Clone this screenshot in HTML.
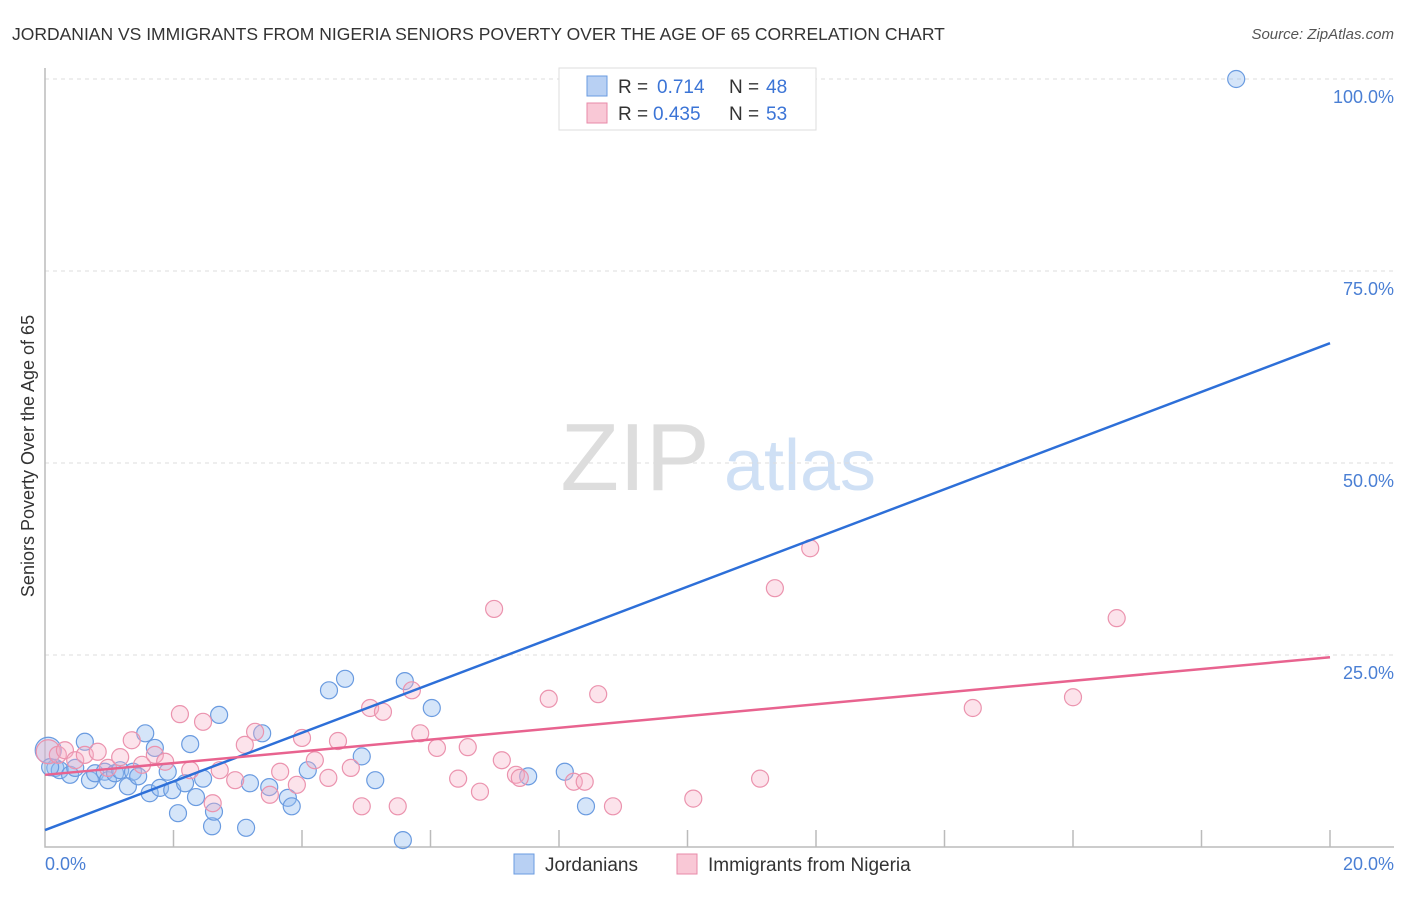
<!DOCTYPE html>
<html><head><meta charset="utf-8"><style>
body{margin:0;background:#fff;font-family:"Liberation Sans",sans-serif;}
svg text{font-family:"Liberation Sans",sans-serif;}
</style></head><body>
<svg id="chart" width="1406" height="892" viewBox="0 0 1406 892">
<text x="12" y="40" font-size="17.5" fill="#333">JORDANIAN VS IMMIGRANTS FROM NIGERIA SENIORS POVERTY OVER THE AGE OF 65 CORRELATION CHART</text>
<text x="1394" y="39" font-size="15" fill="#555" font-style="italic" text-anchor="end">Source: ZipAtlas.com</text>
<g>
<text x="635" y="490" font-size="96" fill="#ddd" text-anchor="middle" font-family="Liberation Serif">ZIP</text>
<text x="800" y="490" font-size="72" fill="#cfe0f5" text-anchor="middle">atlas</text>
</g>
<g id="grid"></g><g id="axes"></g><g id="points"></g><g id="lines"></g>
<text transform="translate(34,456) rotate(-90)" font-size="18" fill="#333" text-anchor="middle">Seniors Poverty Over the Age of 65</text>
<text x="45" y="870" font-size="18" fill="#4a7fd4">0.0%</text>
<text x="1394" y="870" font-size="18" fill="#4a7fd4" text-anchor="end">20.0%</text>
<g>
<rect x="559" y="68" width="257" height="62" fill="#fff" stroke="#ddd"/>
<rect x="587" y="76" width="20" height="20" fill="#b8d0f3" stroke="#6a9be0"/>
<text x="618" y="93" font-size="19" fill="#333">R =</text>
<text x="657" y="93" font-size="19" fill="#3b74d6">0.714</text>
<text x="729" y="93" font-size="19" fill="#333">N =</text>
<text x="766" y="93" font-size="19" fill="#3b74d6">48</text>
<rect x="587" y="103" width="20" height="20" fill="#f9c8d6" stroke="#e88aa8"/>
<text x="618" y="120" font-size="19" fill="#333">R =</text>
<text x="653" y="120" font-size="19" fill="#3b74d6">0.435</text>
<text x="729" y="120" font-size="19" fill="#333">N =</text>
<text x="766" y="120" font-size="19" fill="#3b74d6">53</text>
</g>
<g>
<rect x="514" y="854" width="20" height="20" fill="#b8d0f3" stroke="#6a9be0"/>
<text x="545" y="871" font-size="19" fill="#333">Jordanians</text>
<rect x="677" y="854" width="20" height="20" fill="#f9c8d6" stroke="#e88aa8"/>
<text x="708" y="871" font-size="19" fill="#333">Immigrants from Nigeria</text>
</g>
</svg>
<script>
const yTicks=[25,50,75,100];
const yTickLabels=["25.0%","50.0%","75.0%","100.0%"];
const xTicks=[2,4,6,8,10,12,14,16,18,20];
const blueX=[0.05,0.16,0.23,0.39,0.47,0.62,0.70,0.78,0.93,0.98,1.09,1.17,1.29,1.37,1.45,1.56,1.63,1.71,1.79,1.91,1.98,2.07,2.18,2.26,2.35,2.46,2.60,2.63,2.71,3.13,3.19,3.38,3.49,3.78,3.84,4.09,4.42,4.67,4.93,5.14,5.57,5.60,6.02,7.52,8.09,8.42,18.54,0.08];
const blueY=[12.6,10.3,10.0,9.4,10.3,13.7,8.7,9.6,9.8,8.7,9.6,10.0,7.9,9.8,9.2,14.8,7.0,12.9,7.7,9.8,7.4,4.4,8.3,13.4,6.5,8.9,2.7,4.6,17.2,2.5,8.3,14.8,7.8,6.4,5.3,10.0,20.4,21.9,11.8,8.7,0.9,21.6,18.1,9.2,9.8,5.3,100,10.4];
const pinkX=[0.05,0.2,0.31,0.47,0.62,0.82,0.98,1.17,1.35,1.51,1.71,1.87,2.10,2.26,2.46,2.61,2.72,2.96,3.11,3.27,3.50,3.66,3.92,4.0,4.2,4.41,4.56,4.76,4.93,5.06,5.26,5.49,5.71,5.84,6.10,6.43,6.58,6.77,6.99,7.11,7.33,7.39,7.84,8.23,8.40,8.61,8.84,10.09,11.13,11.36,11.91,14.44,16.0,16.68];
const pinkY=[12.4,12.0,12.6,11.3,12.0,12.4,10.3,11.7,13.9,10.7,12.0,11.1,17.3,10.0,16.3,5.7,10.0,8.7,13.3,15.0,6.8,9.8,8.1,14.2,11.3,9.0,13.8,10.3,5.3,18.1,17.6,5.3,20.4,14.8,12.9,8.9,13.0,7.2,31.0,11.3,9.4,9.0,19.3,8.5,8.5,19.9,5.3,6.3,8.9,33.7,38.9,18.1,19.5,29.8];
const blueLine=[[0,2.2],[20,65.6]];
const pinkLine=[[0,9.4],[20,24.7]];
const NS="http://www.w3.org/2000/svg";
const X=v=>45+v*64.25, Y=v=>847-v*7.68;
function mk(t,a,p){const e=document.createElementNS(NS,t);for(const k in a)e.setAttribute(k,a[k]);p.appendChild(e);return e;}
const grid=document.getElementById('grid'),axes=document.getElementById('axes'),pts=document.getElementById('points'),lines=document.getElementById('lines');
yTicks.forEach((v,i)=>{
 const l=mk('line',{x1:45,x2:1394,y1:Y(v),y2:Y(v),stroke:'#ddd','stroke-dasharray':'4,4'},grid);
 
 
 const t=mk('text',{x:1394,y:Y(v)+24,'font-size':18,fill:'#4a7fd4','text-anchor':'end'},grid);
 t.textContent=yTickLabels[i];
 
 
});
const ax=mk('path',{d:'M45 68V847H1394',fill:'none',stroke:'#bbb','stroke-width':1.5},axes);


xTicks.forEach(v=>{
 const l=mk('line',{x1:X(v),x2:X(v),y1:830,y2:847,stroke:'#bbb','stroke-width':1.5},axes);
 
 
});
blueX.forEach((x,i)=>{
 const c=mk('circle',{cx:X(x),cy:Y(blueY[i]),r:i==0?13:8.5,fill:'rgba(150,190,240,0.4)',stroke:'#6a9be0','stroke-width':1.2},pts);
 
 
});
pinkX.forEach((x,i)=>{
 const c=mk('circle',{cx:X(x),cy:Y(pinkY[i]),r:i==0?12:8.5,fill:'rgba(245,175,198,0.35)',stroke:'#eb93ae','stroke-width':1.2},pts);
 
 
});
const bl=mk('line',{x1:X(blueLine[0][0]),y1:Y(blueLine[0][1]),x2:X(blueLine[1][0]),y2:Y(blueLine[1][1]),stroke:'#2d6fd8','stroke-width':2.5},lines);


const pl=mk('line',{x1:X(pinkLine[0][0]),y1:Y(pinkLine[0][1]),x2:X(pinkLine[1][0]),y2:Y(pinkLine[1][1]),stroke:'#e8638f','stroke-width':2.5},lines);


</script>
</body></html>
